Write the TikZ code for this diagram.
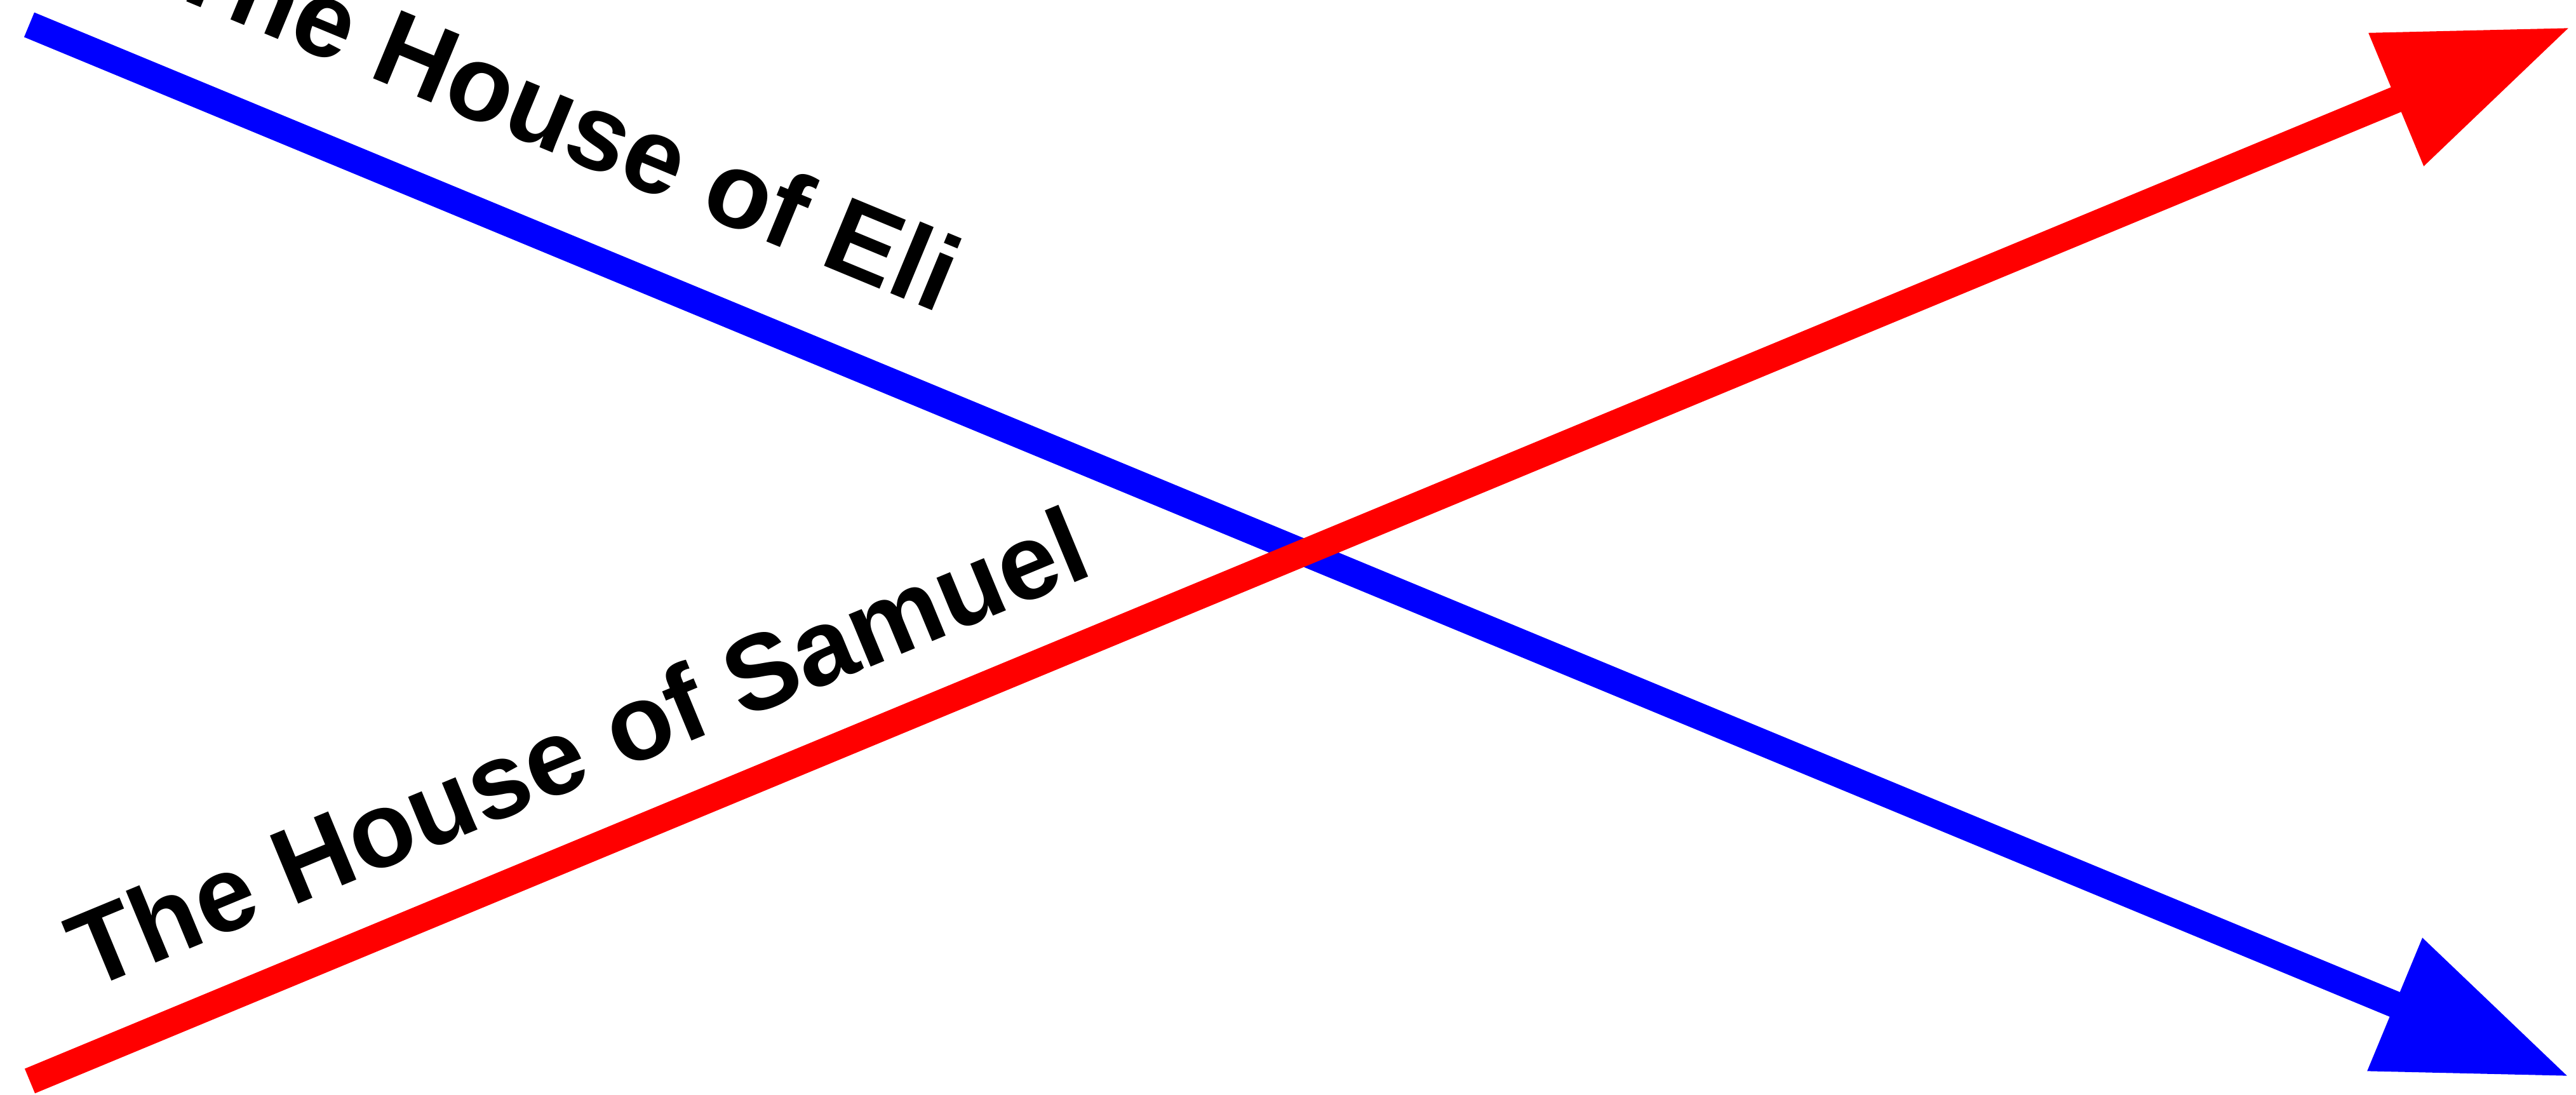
\documentclass[tikz,border=0pt]{standalone}
\usepackage{fontspec}
\setmainfont{Liberation Sans}
\usetikzlibrary{arrows.meta}
\definecolor{pureblue}{RGB}{0,0,255}
\definecolor{purered}{RGB}{255,0,0}
\tikzset{
  house/.style={line width=0.42cm, -{Triangle[length=2.97cm,width=2.15cm]}},
  houselabel/.style={anchor=base west, inner sep=0pt, font=\fontsize{48}{58}\selectfont\bfseries, text=black},
}
\begin{document}
\begin{tikzpicture}
\useasboundingbox (0,0) rectangle (40.56,17.23);
\coordinate (b1) at (0.46,16.84);
\coordinate (b2) at (40.45,0.28);
\coordinate (r1) at (0.47,0.21);
\coordinate (r2) at (40.47,16.80);
\draw[house, pureblue] (b1) -- (b2);
\draw[house, purered] (r1) -- (r2);
\node[houselabel, rotate=-22.5] (eli) at (2.57,17.36) {The House of Eli};
\node[houselabel, rotate=22.5] (samuel) at (1.39,1.63) {The House of Samuel};
\end{tikzpicture}
\end{document}
